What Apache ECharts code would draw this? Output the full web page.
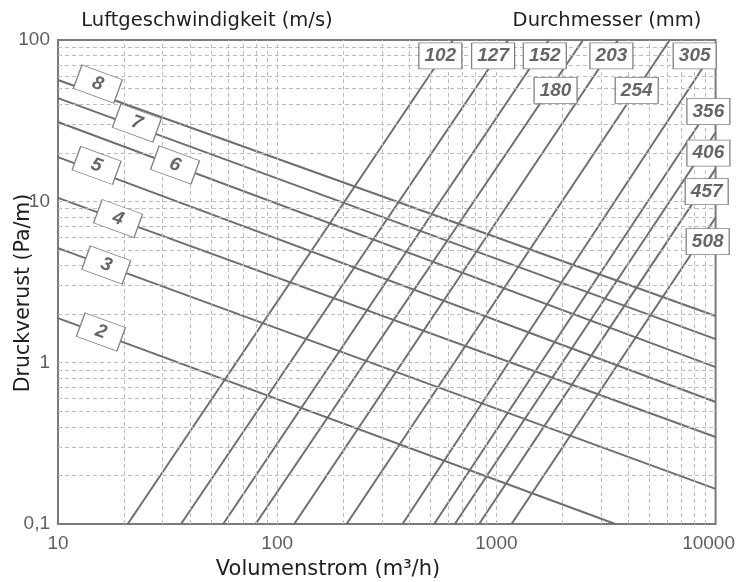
<!DOCTYPE html>
<html>
<head>
<meta charset="utf-8">
<script src="https://cdn.jsdelivr.net/npm/echarts@6/dist/echarts.min.js"></script>
<style>
html,body{margin:0;padding:0;background:#fff;}
#chart{width:738px;height:582px;}
</style>
</head>
<body>
<div id="chart"></div>
<script>
// ---- Axis ticks ----
const xTicks = [10, 100, 1000, 10000];
const xTickLabels = ['10', '100', '1000', '10000'];
const yTicks = [0.1, 1, 10, 100];
const yTickLabels = ['0,1', '1', '10', '100'];

// ---- Grid (minor) lines ----
const xGridValues = [20,30,40,50,60,70,80,90,100,200,300,400,500,600,700,800,900,1000,2000,3000,4000,5000,6000,7000,8000,9000];
const yGridValues = [0.2,0.3,0.4,0.5,0.6,0.7,0.8,0.9,1,2,3,4,5,6,7,8,9,10,20,30,40,50,60,70,80,90];

// ---- Velocity lines (m/s): start and end points [Volumenstrom, Druckverlust] ----
const velNames = ['2', '3', '4', '5', '6', '7', '8'];
const velStart = [[10, 1.89], [10, 5.13], [10, 10.5], [10, 18.8], [10, 31.0], [10, 43.6], [10, 56.5]];
const velEnd = [[3490, 0.1], [10000, 0.165], [10000, 0.346], [10000, 0.570], [10000, 0.939], [10000, 1.40], [10000, 1.945]];
const velLabelAt = [[15.7, 1.55], [16.6, 4.03], [18.8, 7.82], [15.0, 16.7], [34.2, 16.8], [22.9, 30.6], [15.2, 53.4]];

// ---- Diameter lines (mm) ----
const diaNames = ['102', '127', '152', '180', '203', '254', '305', '356', '406', '457', '508'];
const diaStart = [[20.8, 0.1], [36.4, 0.1], [56.7, 0.1], [79.7, 0.1], [119.6, 0.1], [207.3, 0.1], [373, 0.1], [520, 0.1], [646, 0.1], [834, 0.1], [1172, 0.1]];
const diaEnd = [[635, 100], [1131, 100], [1734, 100], [2485, 100], [3589, 100], [6177, 100], [10000, 88.8], [10000, 43.1], [10000, 26.7], [10000, 15.9], [10000, 7.94]];
const diaLabelAt = [[555, 79.6], [966, 79.6], [1663, 79.6], [1862, 48.8], [3348, 79.6], [4367, 48.8], [8028, 79.6], [9272, 36.1], [9272, 19.9], [9108, 11.47], [9204, 5.63]];

const LINE_COLOR = '#6e6e6e';
const TICK_FONT = 'Liberation Sans, Arial, sans-serif';
const TITLE_FONT = 'DejaVu Sans, Verdana, sans-serif';

function tickLabel(ticks, labels, v) {
  for (let i = 0; i < ticks.length; i++) {
    if (Math.abs(Math.log10(v) - Math.log10(ticks[i])) < 1e-6) return labels[i];
  }
  return '';
}

const series = [];

// grid lines
series.push({
  type: 'line', data: [], silent: true, z: 1, animation: false,
  markLine: {
    silent: true, symbol: ['none', 'none'], animation: false,
    label: { show: false },
    lineStyle: { color: '#bcbcbc', type: [4, 3], width: 1 },
    data: xGridValues.map(v => ({ xAxis: v })).concat(yGridValues.map(v => ({ yAxis: v })))
  }
});

velNames.forEach((n, i) => {
  series.push({
    type: 'line', name: n + ' m/s', z: 3, symbol: 'none', animation: false, silent: true,
    lineStyle: { color: LINE_COLOR, width: 2 },
    data: [velStart[i], velEnd[i]]
  });
});
diaNames.forEach((n, i) => {
  series.push({
    type: 'line', name: n + ' mm', z: 3, symbol: 'none', animation: false, silent: true,
    lineStyle: { color: LINE_COLOR, width: 2 },
    data: [diaStart[i], diaEnd[i]]
  });
});

const boxLabelStyle = {
  show: true, position: 'inside', formatter: p => p.data[2],
  color: '#666', fontSize: 19, fontWeight: 'bold', fontStyle: 'italic', fontFamily: TICK_FONT
};

// velocity label boxes
series.push({
  type: 'scatter', z: 10, clip: false, animation: false, silent: true,
  symbol: 'rect', symbolSize: [43, 25], symbolRotate: -20,
  itemStyle: { color: '#fff', borderColor: '#808080', borderWidth: 1, opacity: 1 },
  label: Object.assign({ rotate: -20 }, boxLabelStyle),
  data: velLabelAt.map((c, i) => [c[0], c[1], velNames[i]])
});
// diameter label boxes
series.push({
  type: 'scatter', z: 10, clip: false, animation: false, silent: true,
  symbol: 'rect', symbolSize: [43, 26],
  itemStyle: { color: '#fff', borderColor: '#808080', borderWidth: 1, opacity: 1 },
  label: boxLabelStyle,
  data: diaLabelAt.map((c, i) => [c[0], c[1], diaNames[i]])
});

const chart = echarts.init(document.getElementById('chart'), null, { renderer: 'canvas' });
chart.setOption({
  animation: false,
  backgroundColor: '#fff',
  grid: { left: 58, right: 22, top: 40, bottom: 58, show: true, borderColor: '#7a7a7a', borderWidth: 2, backgroundColor: 'transparent' },
  xAxis: {
    type: 'log', logBase: 10, min: 10, max: 10000,
    axisLine: { show: false }, axisTick: { show: false }, splitLine: { show: false },
    axisLabel: {
      margin: 10, color: '#5e5e5e', fontSize: 19, fontFamily: TICK_FONT,
      formatter: v => {
        const s = tickLabel(xTicks, xTickLabels, v);
        return s === xTickLabels[xTickLabels.length - 1] ? '{last|' + s + '}' : s;
      },
      rich: { last: { padding: [0, 14, 0, 0], color: '#5e5e5e', fontSize: 19, fontFamily: TICK_FONT } }
    }
  },
  yAxis: {
    type: 'log', logBase: 10, min: 0.1, max: 100,
    axisLine: { show: false }, axisTick: { show: false }, splitLine: { show: false },
    axisLabel: {
      margin: 8, color: '#5e5e5e', fontSize: 19, fontFamily: TICK_FONT,
      formatter: v => tickLabel(yTicks, yTickLabels, v)
    }
  },
  graphic: [
    { type: 'text', x: 207, y: 21, silent: true,
      style: { text: 'Luftgeschwindigkeit (m/s)', fill: '#1e1e1e', font: '19.5px ' + TITLE_FONT, align: 'center', verticalAlign: 'middle' } },
    { type: 'text', x: 607, y: 21, silent: true,
      style: { text: 'Durchmesser (mm)', fill: '#1e1e1e', font: '19.5px ' + TITLE_FONT, align: 'center', verticalAlign: 'middle' } },
    { type: 'text', x: 328, y: 570, silent: true,
      style: { text: 'Volumenstrom (m³/h)', fill: '#1e1e1e', font: '21px ' + TITLE_FONT, align: 'center', verticalAlign: 'middle' } },
    { type: 'text', x: 24, y: 293, rotation: Math.PI / 2, silent: true,
      style: { text: 'Druckverust (Pa/m)', fill: '#1e1e1e', font: '20.5px ' + TITLE_FONT, align: 'center', verticalAlign: 'middle' } }
  ],
  series: series
});
</script>
</body>
</html>
